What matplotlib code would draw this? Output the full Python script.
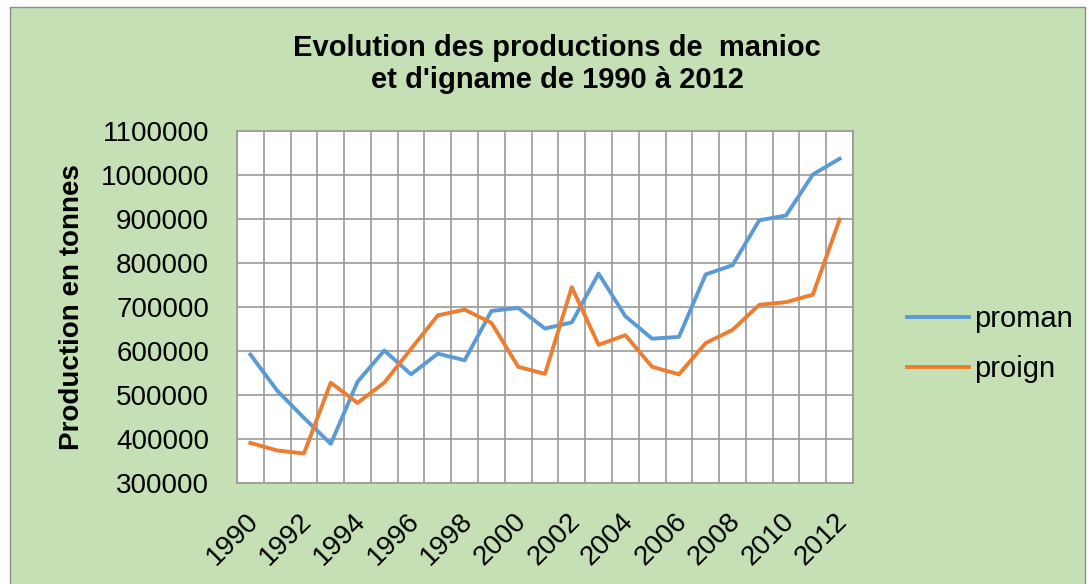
import matplotlib.pyplot as plt
import matplotlib.transforms as mtransforms
from matplotlib.patches import Rectangle

plt.rcParams['font.family'] = ['Liberation Sans', 'DejaVu Sans']

years = list(range(1990, 2013))
proman = [592000, 510000, 448000, 389000, 530000, 601000, 547000, 594000, 579000,
          691000, 698000, 651000, 665000, 776000, 679000, 628000, 632000, 774000,
          795000, 897000, 908000, 1001000, 1037000]
proign = [391000, 374000, 367000, 528000, 482000, 528000, 605000, 681000, 694000,
          664000, 564000, 548000, 745000, 614000, 636000, 564000, 547000, 618000,
          648000, 705000, 711000, 728000, 899000]
y_ticks = list(range(300000, 1100001, 100000))

fig = plt.figure(figsize=(10.89, 5.84), dpi=100)
fig.patch.set_facecolor('white')
# green chart area with thin grey border
bg = Rectangle((10 / 1089, -0.01), 1075 / 1089, 1 - 7 / 584 + 0.01,
               transform=fig.transFigure, facecolor='#C5E0B4',
               edgecolor='#8c8c8c', linewidth=1, zorder=-10)
fig.patches.append(bg)

ax = fig.add_axes([237 / 1089, 1 - 483 / 584, 616 / 1089, 352 / 584])
ax.set_facecolor('white')

x = list(range(len(years)))
ax.plot(x, proman, color='#5B9BD5', linewidth=2.8, label='proman', zorder=3)
ax.plot(x, proign, color='#ED7D31', linewidth=2.8, label='proign', zorder=3)

ax.set_xlim(-0.5, len(years) - 0.5)
ax.set_ylim(300000, 1100000)
ax.set_yticks(y_ticks)
ax.set_yticklabels([str(v) for v in y_ticks], fontsize=20)

# vertical grid between categories, labels every other year
ax.set_xticks([i - 0.5 for i in range(len(years) + 1)], minor=True)
ax.set_xticks(x[::2])
ax.set_xticklabels([str(y) for y in years[::2]], rotation=45, ha='right',
                   rotation_mode='anchor', fontsize=20)
ax.grid(True, which='minor', axis='x', color='#9a9a9a', linewidth=1.2)
ax.grid(True, which='major', axis='y', color='#9a9a9a', linewidth=1.2)
ax.tick_params(axis='both', which='both', length=0)
ax.tick_params(axis='x', pad=18)
ax.tick_params(axis='y', pad=20)
# nudge the rotated year labels left, like Excel places them
shift = mtransforms.ScaledTranslation(-5 / 100, 0, fig.dpi_scale_trans)
for lbl in ax.get_xticklabels():
    lbl.set_transform(lbl.get_transform() + shift)
for s in ax.spines.values():
    s.set_color('#9a9a9a')
    s.set_linewidth(1.2)
ax.set_axisbelow(True)

ax.set_ylabel('Production en tonnes', fontsize=20, fontweight='bold', labelpad=11)

fig.text(557 / 1089, 1 - 64 / 584, "Evolution des productions de  manioc\net d'igname de 1990 à 2012",
         ha='center', va='center', fontsize=21, fontweight='bold', linespacing=1.22)

fig.legend(loc='center left', bbox_to_anchor=(881 / 1089, 1 - 344 / 584), frameon=False,
           fontsize=21, handlelength=2.1, labelspacing=0.75, handletextpad=0.2)

fig.savefig('out.png', dpi=100)
